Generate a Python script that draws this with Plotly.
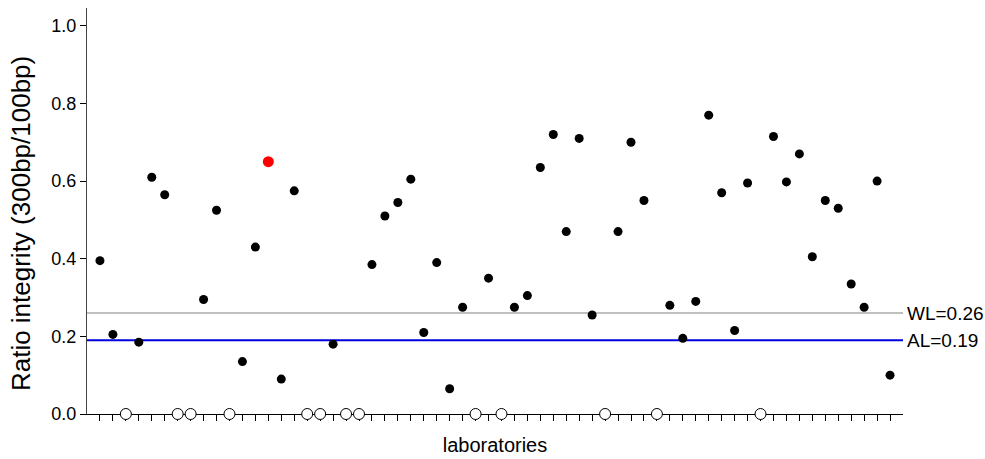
import plotly.graph_objects as go

labs = list(range(1, 63))
# 0.0 = no measurable integrity (drawn as open circle on axis)
ratios = [0.395, 0.205, 0.0, 0.185, 0.61, 0.565, 0.0, 0.0, 0.295, 0.525,
          0.0, 0.135, 0.43, 0.65, 0.09, 0.575, 0.0, 0.0, 0.18, 0.0,
          0.0, 0.385, 0.51, 0.545, 0.605, 0.21, 0.39, 0.065, 0.275, 0.0,
          0.35, 0.0, 0.275, 0.305, 0.635, 0.72, 0.47, 0.71, 0.255, 0.0,
          0.47, 0.70, 0.55, 0.0, 0.28, 0.195, 0.29, 0.77, 0.57, 0.215,
          0.595, 0.0, 0.715, 0.598, 0.67, 0.405, 0.55, 0.53, 0.335, 0.275,
          0.60, 0.10]
outlier_lab = 14
WL = 0.26
AL = 0.19

fx, fy, ox, oy, rx, ry = [], [], [], [], [], []
for lab, v in zip(labs, ratios):
    if v == 0.0:
        ox.append(lab); oy.append(v)
    elif lab == outlier_lab:
        rx.append(lab); ry.append(v)
    else:
        fx.append(lab); fy.append(v)

fig = go.Figure()
fig.add_trace(go.Scatter(x=fx, y=fy, mode="markers",
                         marker=dict(size=9, color="black"), cliponaxis=False))
fig.add_trace(go.Scatter(x=rx, y=ry, mode="markers",
                         marker=dict(size=11, color="#ff0000"), cliponaxis=False))
fig.add_trace(go.Scatter(x=ox, y=oy, mode="markers",
                         marker=dict(size=11, color="white",
                                     line=dict(color="black", width=1)),
                         cliponaxis=False))

fig.add_shape(type="line", xref="paper", x0=0, x1=1, yref="y", y0=WL, y1=WL,
              line=dict(color="#c0c0c0", width=2), layer="below")
fig.add_shape(type="line", xref="paper", x0=0, x1=1, yref="y", y0=AL, y1=AL,
              line=dict(color="#0000dd", width=2), layer="below")
fig.add_annotation(xref="paper", x=1.003, y=WL, yref="y", text=f"WL={WL:.2f}",
                   showarrow=False, xanchor="left",
                   font=dict(size=19, color="black"))
fig.add_annotation(xref="paper", x=1.003, y=AL, yref="y", text=f"AL={AL:.2f}",
                   showarrow=False, xanchor="left",
                   font=dict(size=19, color="black"))
fig.add_annotation(xref="paper", yref="paper", x=-0.081, y=0.47,
                   text="Ratio integrity (300bp/100bp)", textangle=-90,
                   showarrow=False, xanchor="center", yanchor="middle",
                   font=dict(size=26, color="black"))

fig.update_layout(
    width=985, height=459,
    margin=dict(l=87, r=82, t=8, b=45),
    plot_bgcolor="white", paper_bgcolor="white",
    showlegend=False,
    font=dict(family="Liberation Sans, Arial, sans-serif", color="black"),
)
fig.update_xaxes(range=[0, 63], tickmode="array", tickvals=labs, ticktext=[""] * len(labs),
                 ticks="outside", ticklen=6, tickcolor="black", showgrid=False,
                 zeroline=False, showline=True, linecolor="black", linewidth=1,
                 layer="below traces",
                 title=dict(text="laboratories", font=dict(size=20), standoff=15))
fig.update_yaxes(range=[0, 1.046], tickvals=[0, 0.2, 0.4, 0.6, 0.8, 1.0],
                 tickformat=".1f", ticks="outside", ticklen=6, tickcolor="black",
                 tickfont=dict(size=18), showgrid=False, zeroline=False,
                 showline=True, linecolor="#444", linewidth=1, layer="below traces")

fig.write_html("out.html")
